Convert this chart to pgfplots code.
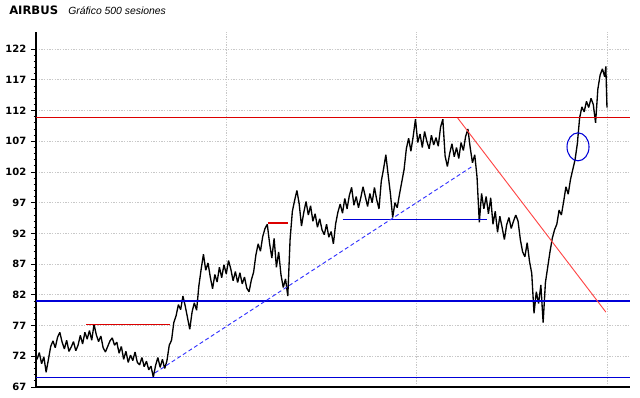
\documentclass[border=0pt]{standalone}
\usepackage{fontspec}
\setmainfont{DejaVu Sans}
\newfontfamily\libsans{Liberation Sans}
\usepackage{pgfplots}
\usepackage{pgfplotstable}
\pgfplotsset{compat=1.18}
\definecolor{gridc}{RGB}{200,200,200}
\definecolor{annred}{RGB}{220,0,0}
\definecolor{annblue}{RGB}{0,0,215}
\definecolor{trendred}{RGB}{255,70,70}
\definecolor{trendblue}{RGB}{50,50,255}

\pgfplotstableread{
s v
0 71.5
2 72.6
4 70.8
6 71.9
8 69.4
10 71.5
12 73.6
14 74.5
16 73.4
18 75.1
20 75.9
22 74.3
24 73.2
26 74.6
28 72.8
30 73.5
32 74.4
34 72.9
36 73.8
38 75.4
40 74.0
42 75.9
44 74.8
46 76.2
48 74.6
50 77.2
52 75.5
54 74.4
56 75.3
58 73.4
60 72.7
62 73.6
64 74.5
66 75.0
68 73.8
70 74.3
72 72.5
74 73.6
76 71.5
78 72.8
80 71.0
82 72.2
84 71.3
86 72.7
88 71.0
90 70.6
92 71.8
94 70.3
96 71.2
98 69.8
100 70.4
102 68.6
104 70.5
106 71.8
108 70.2
110 71.5
112 70.0
114 71.3
116 73.8
118 74.6
120 77.5
122 78.6
124 80.4
126 79.6
128 81.8
130 80.2
132 78.3
134 76.4
136 79.2
138 80.7
140 79.5
142 83.5
144 86.2
146 88.6
148 86.0
150 87.2
152 84.9
154 83.0
156 85.3
158 84.1
160 86.5
162 84.8
164 86.9
166 85.4
168 87.6
170 86.2
172 84.3
174 85.8
176 84.0
178 85.6
180 83.8
182 84.9
184 83.1
186 82.5
188 84.4
190 85.7
192 88.5
194 90.3
196 89.1
198 91.5
200 92.8
202 93.5
204 90.4
206 88.0
208 91.2
210 86.5
212 89.0
214 85.3
216 83.2
218 84.6
220 81.8
222 91.0
224 95.6
226 97.4
228 99.0
230 96.8
232 93.2
234 95.4
236 97.2
238 95.0
240 96.5
242 94.0
244 95.2
246 93.0
248 94.4
250 92.6
252 91.8
254 93.5
256 91.4
258 92.3
260 90.3
262 93.6
264 95.5
266 96.8
268 95.3
270 97.7
272 96.0
274 98.2
276 99.5
278 96.6
280 98.0
282 96.2
284 97.8
286 99.6
288 98.0
290 96.4
292 98.5
294 97.0
296 99.5
298 97.5
300 96.0
302 100.5
304 102.5
306 104.8
308 101.6
310 98.5
312 94.6
314 97.0
316 96.2
318 98.4
320 100.4
322 102.4
324 105.8
326 107.5
328 105.4
330 107.8
332 110.6
334 106.8
336 108.2
338 106.0
340 108.6
342 107.0
344 105.8
346 108.0
348 106.4
350 107.6
352 106.2
354 109.3
356 110.6
358 104.6
360 102.9
362 105.0
364 106.6
366 104.5
368 106.0
370 104.2
372 106.8
374 105.5
376 107.8
378 109.0
380 106.0
382 103.5
384 104.8
386 101.2
388 93.8
390 98.5
392 96.0
394 98.0
396 95.2
398 97.8
400 93.5
402 95.6
404 92.2
406 94.8
408 93.0
410 91.0
412 93.4
414 94.6
416 92.8
418 94.0
420 95.0
422 94.0
424 91.0
426 89.0
428 88.2
430 90.5
432 87.5
434 85.5
436 79.0
438 82.5
440 80.6
442 83.6
444 77.5
446 84.0
448 86.5
450 89.0
452 91.2
454 92.6
456 93.5
458 95.8
460 95.0
462 97.2
464 99.6
466 98.4
468 100.8
470 102.4
472 104.0
474 106.6
476 110.8
478 112.6
480 111.8
482 113.5
484 112.5
486 114.0
488 113.0
490 110.0
492 115.5
494 117.8
496 118.8
498 117.5
499 119.2
500 112.5
}\prices

\begin{document}
\begin{tikzpicture}
\useasboundingbox (-27pt,-8.25pt) rectangle (453pt,290.25pt);
\begin{axis}[
  at={(0,0)}, anchor=south west, scale only axis,
  width=445.5pt, height=266.25pt,
  xmin=-0.9, xmax=520.2, ymin=67, ymax=124.8,
  axis lines=left,
  axis line style={-, line width=0.8pt, black},
  ytick={67,72,...,122}, minor y tick num=4,
  xtick={166,332.5,500}, xticklabels={},
  x tick style={draw=none},
  tick align=outside,
  major tick length=3.75pt, minor tick length=1.8pt,
  y tick style={line width=0.7pt, black},
  xmajorgrids, ymajorgrids,
  major grid style={gridc, dash pattern=on 1pt off 1pt, line width=0.6pt},
  /pgf/number format/assume math mode=true,
  yticklabel style={font=\bfseries\fontsize{7.5}{9}\selectfont, black},
  clip=true,
]
\addplot[black, line width=1pt, line join=bevel] table[x=s, y=v] {\prices};
% horizontal support / resistance lines
\addplot[annred, line width=0.8pt] coordinates {(-0.9,110.9) (520.2,110.9)};
\addplot[annblue, line width=0.8pt] coordinates {(-0.9,81.0) (520.2,81.0)};
\addplot[annblue, line width=0.8pt] coordinates {(-0.9,68.6) (520.2,68.6)};
\addplot[annred, line width=0.8pt] coordinates {(43,77.1) (117,77.1)};
\addplot[annred, line width=1.5pt] coordinates {(203,93.7) (220,93.7)};
\addplot[annblue, line width=0.8pt] coordinates {(268,94.2) (395,94.2)};
% trend lines
\addplot[trendblue, line width=0.7pt, densely dashed] coordinates {(103.5,69.3) (382.5,103.0)};
\addplot[trendred, line width=0.7pt] coordinates {(369,110.8) (499,79.2)};
\draw[annblue, line width=0.8pt] (axis cs:474.6,106.1) ellipse [x radius=8.25pt, y radius=10.5pt];
\end{axis}
\node[anchor=base west, inner sep=0, font=\bfseries\fontsize{8.7}{10}\selectfont] at (-20.25pt,279pt) {AIRBUS};
\node[anchor=base west, inner sep=0, font=\libsans\itshape\fontsize{7.8}{9}\selectfont] at (24pt,279pt) {Gráfico 500 sesiones};
\end{tikzpicture}
\end{document}
